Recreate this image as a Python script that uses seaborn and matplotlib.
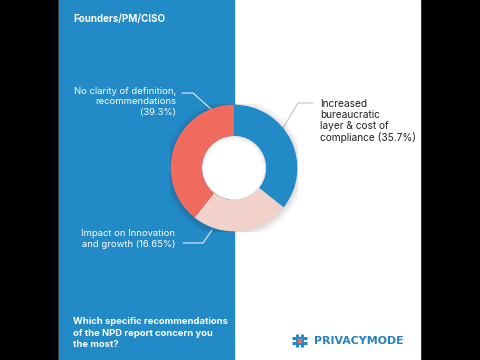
import matplotlib
matplotlib.use("Agg")
import matplotlib.pyplot as plt
import matplotlib.patches as mpatches
import seaborn as sns

# Data
categories = ["Increased\nbureaucratic\nlayer & cost of\ncompliance (35.7%)",
              "Impact on Innovation\nand growth (16.65%)",
              "No clarity of definition,\nrecommendations\n(39.3%)"]
shares = [35.7, 25.0, 39.3]          # wedge sizes as drawn
slice_colors = ["#238AC8", "#F2D1CA", "#F06B5E"]

title = "Founders/PM/CISO"
question = "Which specific recommendations\nof the NPD report concern you\nthe most?"
brand = "PRIVACYMODE"

sns.set_theme(style="white")
plt.rcParams['font.family'] = ['Inter', 'DejaVu Sans']

fig = plt.figure(figsize=(4.8, 3.6), dpi=100)
fig.patch.set_facecolor("black")

# background in pixel coordinates
bg = fig.add_axes([0, 0, 1, 1])
bg.set_xlim(0, 480)
bg.set_ylim(360, 0)
bg.axis("off")
bg.add_patch(mpatches.Rectangle((59, 0), 361, 360, color="white", zorder=0))
bg.add_patch(mpatches.Rectangle((59, 0), 175, 360, color="#238AC8", zorder=1))

bg.text(73, 19, title, color="white", fontsize=7, fontweight="bold", va="center", ha="left")
bg.text(73, 333, question, color="white", fontsize=6.8, fontweight="bold",
        va="center", ha="left", linespacing=1.38)

# labels with leader lines
bg.text(176, 102, categories[2], color="white", fontsize=6.8, ha="right", va="center",
        linespacing=1.25)
bg.plot([182, 193, 212], [93, 93, 110], color="white", lw=0.7)
bg.text(320, 121, categories[0], color="#222222", fontsize=7.3, ha="left", va="center",
        linespacing=1.12)
bg.plot([313, 298, 283], [103, 103, 128], color="#BBBBBB", lw=0.7)
bg.text(175, 239, categories[1], color="white", fontsize=6.8, ha="right", va="center",
        linespacing=1.25)
bg.plot([183, 203, 212], [243, 243, 230], color="white", lw=0.7)

# logo: hash icon + wordmark
for x in (297, 302):
    bg.plot([x, x], [334, 347], color="#238AC8", lw=2.2, solid_capstyle="butt", zorder=3)
for y in (338, 343):
    bg.plot([292, 307], [y, y], color="#238AC8", lw=2.2, solid_capstyle="butt", zorder=3)
bg.add_patch(mpatches.Rectangle((298, 339), 3, 3, color="#F06B5E", zorder=4))
bg.text(314, 341, brand, color="#2581C2", fontsize=7.9, fontweight="bold",
        family="DejaVu Sans", va="center", ha="left")

# donut
cx, cy, R = 234, 168, 64
ax = fig.add_axes([(cx - R) / 480, (360 - cy - R) / 360, 2 * R / 480, 2 * R / 360])
ax.set_facecolor("none")
for k in range(6):
    ax.add_patch(mpatches.Circle((0.0, -0.02), 0.99 + 0.02 * k, color="black",
                                 alpha=0.025, zorder=0, lw=0))
ax.pie(shares, colors=slice_colors, startangle=90, counterclock=False,
       radius=0.99, wedgeprops=dict(width=0.49, linewidth=0))
# hole with soft inner shadow
ax.add_patch(mpatches.Circle((0, 0), 0.50, color="#DDDDDD", zorder=5, lw=0))
for k in range(4):
    ax.add_patch(mpatches.Circle((0.0, -0.01 * k), 0.49 - 0.012 * k, color="white",
                                 alpha=0.5, zorder=6, lw=0))
ax.add_patch(mpatches.Circle((0, -0.03), 0.45, color="white", zorder=7, lw=0))
ax.set_xlim(-1, 1)
ax.set_ylim(-1, 1)
ax.set_aspect("equal")
ax.axis("off")

fig.savefig("out.png", dpi=100, facecolor=fig.get_facecolor())
